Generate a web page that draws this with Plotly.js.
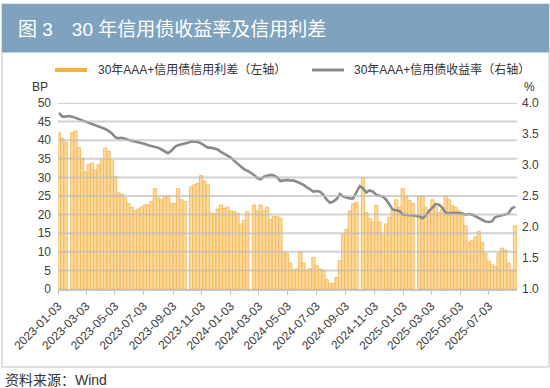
<!DOCTYPE html>
<html><head><meta charset="utf-8">
<script src="https://cdn.plot.ly/plotly-3.0.1.min.js"></script>
<style>html,body{margin:0;padding:0;background:#fff;} #chart{width:550px;height:388px;}</style>
</head><body><div id="chart"></div>
<script>
const weekDates = [
'2023-01-04','2023-01-11','2023-01-18','2023-01-25','2023-02-01','2023-02-08','2023-02-15','2023-02-22','2023-03-01','2023-03-08',
'2023-03-15','2023-03-22','2023-03-29','2023-04-05','2023-04-12','2023-04-19','2023-04-26','2023-05-03','2023-05-10','2023-05-17',
'2023-05-24','2023-05-31','2023-06-07','2023-06-14','2023-06-21','2023-06-28','2023-07-05','2023-07-12','2023-07-19','2023-07-26',
'2023-08-02','2023-08-09','2023-08-16','2023-08-23','2023-08-30','2023-09-06','2023-09-13','2023-09-20','2023-09-27','2023-10-04',
'2023-10-11','2023-10-18','2023-10-25','2023-11-01','2023-11-08','2023-11-15','2023-11-22','2023-11-29','2023-12-06','2023-12-13',
'2023-12-20','2023-12-27','2024-01-03','2024-01-10','2024-01-17','2024-01-24','2024-01-31','2024-02-07','2024-02-14','2024-02-21',
'2024-02-28','2024-03-06','2024-03-13','2024-03-20','2024-03-27','2024-04-03','2024-04-10','2024-04-17','2024-04-24','2024-05-01',
'2024-05-08','2024-05-15','2024-05-22','2024-05-29','2024-06-05','2024-06-12','2024-06-19','2024-06-26','2024-07-03','2024-07-10',
'2024-07-17','2024-07-24','2024-07-31','2024-08-07','2024-08-14','2024-08-21','2024-08-28','2024-09-04','2024-09-11','2024-09-18',
'2024-09-25','2024-10-02','2024-10-09','2024-10-16','2024-10-23','2024-10-30','2024-11-06','2024-11-13','2024-11-20','2024-11-27',
'2024-12-04','2024-12-11','2024-12-18','2024-12-25','2025-01-01','2025-01-08','2025-01-15','2025-01-22','2025-01-29','2025-02-05',
'2025-02-12','2025-02-19','2025-02-26','2025-03-05','2025-03-12','2025-03-19','2025-03-26','2025-04-02','2025-04-09','2025-04-16',
'2025-04-23','2025-04-30','2025-05-07','2025-05-14','2025-05-21','2025-05-28','2025-06-04','2025-06-11','2025-06-18','2025-06-25',
'2025-07-02','2025-07-09','2025-07-16','2025-07-23','2025-07-30','2025-08-06','2025-08-13','2025-08-20','2025-08-27'];

const spreadBP = [
42,40.5,39.5,null,42,42.5,38,35,31.5,33.5,
33.8,32,33.4,34.7,37.9,37,34.7,30.3,25.8,25.5,
24.5,23,22,21,21.5,22,22.6,22.6,23.5,27,
24.5,24,24.8,25,23,23,27,24,23.5,null,
27.5,28,28.5,30.5,29,28,20.4,20.2,21.5,22.6,
21.7,22,21,20.8,20.4,17.5,18.5,20.8,null,22.6,
21,22.6,21,22,18.6,19.5,19.5,19,10,9.5,
7,5,5.5,10,7,5,5.5,8.5,6.3,5.4,
5,2.5,1.5,1.5,3.1,7.6,14.8,16,21,22.9,
23.3,null,30,20.5,19,18,22.5,18,14.5,17.5,
19.3,21.5,24,22,27,25,23.8,23,null,25,
25,22,20.5,24,22,20.5,21.5,25,24,22.5,
22,21,20,17,12.5,13,14,15.5,12.5,9.5,
7.5,6.5,6,9.5,11,10.5,7,5,17];

const yieldPct = [
3.84,3.78,3.78,3.79,3.78,3.76,3.74,3.72,3.70,3.68,
3.66,3.65,3.63,3.61,3.58,3.55,3.51,3.45,3.43,3.44,
3.42,3.41,3.39,3.38,3.37,3.35,3.34,3.32,3.31,3.30,
3.28,3.25,3.22,3.19,3.23,3.29,3.32,3.33,3.34,3.36,
3.38,3.38,3.37,3.35,3.32,3.28,3.28,3.27,3.25,3.21,
3.18,3.15,3.12,3.07,3.02,2.98,2.93,2.91,2.88,2.84,
2.79,2.77,2.81,2.83,2.84,2.83,2.80,2.74,2.75,2.76,
2.75,2.75,2.73,2.71,2.68,2.64,2.61,2.57,2.58,2.57,
2.52,2.44,2.39,2.41,2.45,2.53,2.49,2.47,2.46,2.46,
2.55,2.66,2.62,2.56,2.59,2.57,2.52,2.50,2.49,2.44,
2.36,2.28,2.27,2.26,2.20,2.19,2.19,2.19,2.18,2.17,
2.14,2.19,2.26,2.32,2.37,2.36,2.31,2.23,2.22,2.23,
2.23,2.22,2.22,2.20,2.21,2.20,2.17,2.14,2.11,2.09,
2.08,2.09,2.16,2.18,2.19,2.20,2.22,2.30,2.33];

const tickDates = ['2023-01-03','2023-03-03','2023-05-03','2023-07-03','2023-09-03','2023-11-03',
'2024-01-03','2024-03-03','2024-05-03','2024-07-03','2024-09-03','2024-11-03',
'2025-01-03','2025-03-03','2025-05-03','2025-07-03'];

const leftTicks = [0, 5, 10, 15, 20, 25, 30, 35, 40, 45, 50];
const seriesNames = ['30年AAA+信用债信用利差（左轴）', '30年AAA+信用债收益率（右轴）'];
const titleText = '图 3　30 年信用债收益率及信用利差';
const sourceText = '资料来源：Wind';
const leftUnit = 'BP';
const rightUnit = '%';

const FONT = '"Liberation Sans", "Noto Sans CJK SC", sans-serif';
const LEGFONT = '"Liberation Sans", "Noto Sans CJK SC", sans-serif';
const L = 58, R = 517, T = 103, B = 289;
const px = x => (x - L) / (R - L);
const py = y => (B - y) / (B - T);
const mid = weekDates.map(d => d + ' 12:00');
const DAY = 86400000;

const traces = [
  {type: 'bar', x: mid, y: spreadBP, width: 7 * DAY,
   marker: {color: '#fcd9a0', line: {color: '#f5b546', width: 0.8}},
   hoverinfo: 'skip', showlegend: false},
  {type: 'scatter', mode: 'lines', x: mid, y: yieldPct, yaxis: 'y2',
   line: {color: '#8a8a8a', width: 2.6}, connectgaps: true,
   hoverinfo: 'skip', showlegend: false}
];

const gridShapes = leftTicks.filter(v => v > 0).map(v => ({
  type: 'line', xref: 'paper', yref: 'y', x0: 0, x1: 1, y0: v, y1: v,
  line: {color: 'rgba(190,190,190,0.7)', width: 2}, layer: 'above'
}));

const layout = {
  width: 550, height: 388,
  margin: {l: L, r: 550 - R, t: T, b: 388 - B, pad: 0},
  paper_bgcolor: '#fff', plot_bgcolor: '#fff',
  font: {family: FONT, size: 12, color: '#333'},
  showlegend: false, bargap: 0,
  xaxis: {type: 'date', range: ['2023-01-02 09:00', '2025-08-31 14:00'],
    tickvals: tickDates, ticktext: tickDates, tickangle: -45,
    tickfont: {size: 12, color: '#404040'},
    showgrid: false, showline: true, linecolor: '#c4c4c4', linewidth: 1.5,
    ticks: 'outside', ticklen: 4, tickcolor: '#c4c4c4', zeroline: false, fixedrange: true},
  yaxis: {range: [0, 50], tickvals: leftTicks, showgrid: false,
    zeroline: false, showline: false, ticks: '', ticklabelstandoff: 6,
    tickfont: {size: 12, color: '#404040'}, fixedrange: true},
  yaxis2: {range: [1, 4], dtick: 0.5, tick0: 1, tickformat: '.1f', overlaying: 'y', side: 'right',
    showgrid: false, zeroline: false, showline: false, ticks: '', ticklabelstandoff: 4,
    tickfont: {size: 12, color: '#404040'}, fixedrange: true},
  shapes: [
    {type: 'rect', xref: 'paper', yref: 'paper', x0: px(2), x1: px(549), y0: py(367), y1: py(4),
     line: {color: '#c2c2c2', width: 1}, fillcolor: 'rgba(0,0,0,0)', layer: 'below'},
    {type: 'rect', xref: 'paper', yref: 'paper', x0: px(2), x1: px(549), y0: py(52.5), y1: py(4),
     line: {width: 0}, fillcolor: '#7fa3bf', layer: 'below'},
    {type: 'line', xref: 'paper', yref: 'paper', x0: px(55), x1: px(87), y0: py(70), y1: py(70),
     line: {color: '#f5b335', width: 4}},
    {type: 'line', xref: 'paper', yref: 'paper', x0: px(312), x1: px(344), y0: py(70), y1: py(70),
     line: {color: '#8c8c8c', width: 3}}
  ].concat(gridShapes),
  annotations: [
    {xref: 'paper', yref: 'paper', x: px(16), y: py(30), xanchor: 'left', yanchor: 'middle',
     text: titleText, showarrow: false, font: {size: 19, color: '#ffffff', family: FONT}},
    {xref: 'paper', yref: 'paper', x: px(96), y: py(70), xanchor: 'left', yanchor: 'middle',
     text: seriesNames[0], showarrow: false, font: {size: 12, color: '#333', family: LEGFONT}},
    {xref: 'paper', yref: 'paper', x: px(352), y: py(70), xanchor: 'left', yanchor: 'middle',
     text: seriesNames[1], showarrow: false, font: {size: 12, color: '#333', family: LEGFONT}},
    {xref: 'paper', yref: 'paper', x: px(50), y: py(87), xanchor: 'right', yanchor: 'middle',
     text: leftUnit, showarrow: false, font: {size: 12, color: '#333'}},
    {xref: 'paper', yref: 'paper', x: px(537), y: py(87), xanchor: 'right', yanchor: 'middle',
     text: rightUnit, showarrow: false, font: {size: 12, color: '#333'}},
    {xref: 'paper', yref: 'paper', x: px(3), y: py(380), xanchor: 'left', yanchor: 'middle',
     text: sourceText, showarrow: false, font: {size: 14, color: '#333'}}
  ]
};

Plotly.newPlot('chart', traces, layout, {staticPlot: true, displayModeBar: false});
</script></body></html>
